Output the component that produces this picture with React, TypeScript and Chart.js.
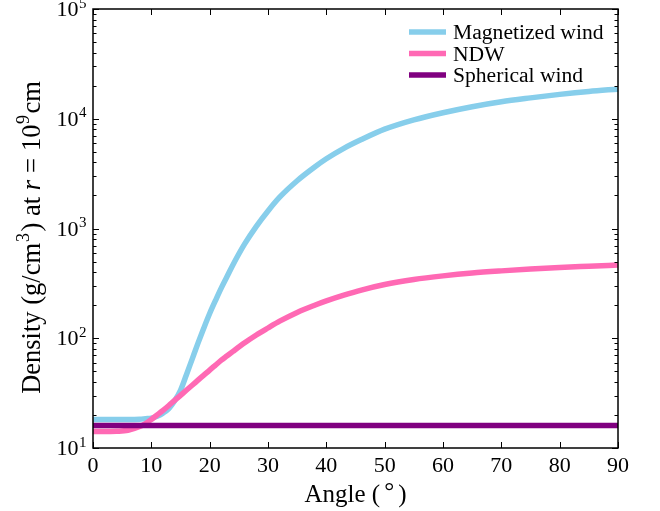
import React, { useEffect, useRef } from "react";
import { Chart, registerables } from "chart.js";

Chart.register(...registerables);

// ---- data ----
const angles = [0, 2, 4, 6, 8, 9, 10, 11, 12, 13, 14, 15, 16, 17, 18, 19, 20, 21, 22, 23, 24, 26, 28, 30, 32, 35, 38, 40, 43, 46, 50, 55, 60, 65, 70, 75, 80, 85, 90];
const magnetizedWind = [18.2, 18.2, 18.2, 18.2, 18.3, 18.5, 18.7, 19.5, 20.8, 22.9, 26.9, 33.5, 46.2, 64.6, 90.2, 124, 168, 221, 288, 367, 468, 724, 1047, 1445, 1928, 2723, 3631, 4315, 5370, 6457, 8035, 9772, 11350, 12880, 14290, 15490, 16670, 17740, 18620];
const ndw = [14.1, 14.1, 14.2, 14.5, 15.7, 16.7, 18.2, 20.0, 22.0, 24.4, 27.2, 30.2, 33.6, 37.3, 41.5, 46.1, 51.3, 56.9, 63.1, 69.2, 75.9, 90.8, 107, 124, 143, 172, 200, 219, 247, 275, 309, 343, 370, 393, 411, 427, 441, 453, 465];
const sphericalAngles = [0, 90];
const sphericalWind = [16, 16];

const xTicks = [0, 10, 20, 30, 40, 50, 60, 70, 80, 90];
const yTickExponents = [1, 2, 3, 4, 5];
const minorMultipliers = [2, 3, 4, 5, 6, 7, 8, 9];

const seriesNames = ["Magnetized wind", "NDW", "Spherical wind"];
const seriesColors = ["#87CEEB", "#FF69B4", "#800080"];

const FONT = "'Liberation Serif', 'DejaVu Serif', serif";

const overlay = {
  id: "overlay",
  afterDraw(chart: any) {
    const { ctx, chartArea: a, scales } = chart;
    const xs = scales.x;
    const ys = scales.y;
    ctx.save();
    ctx.strokeStyle = "#000";
    ctx.fillStyle = "#000";

    const line = (x1: number, y1: number, x2: number, y2: number) => {
      ctx.beginPath();
      ctx.moveTo(x1, y1);
      ctx.lineTo(x2, y2);
      ctx.stroke();
    };

    // ticks
    ctx.lineWidth = 1;
    for (const v of xTicks) {
      const px = Math.round(xs.getPixelForValue(v)) + 0.5;
      line(px, a.bottom, px, a.bottom - 6);
      line(px, a.top, px, a.top + 6);
    }
    for (const e of yTickExponents) {
      const py = Math.round(ys.getPixelForValue(Math.pow(10, e))) + 0.5;
      line(a.left, py, a.left + 6, py);
      line(a.right, py, a.right - 6, py);
      if (e < 5) {
        for (const m of minorMultipliers) {
          const pm = Math.round(ys.getPixelForValue(m * Math.pow(10, e))) + 0.5;
          line(a.left, pm, a.left + 3.5, pm);
          line(a.right, pm, a.right - 3.5, pm);
        }
      }
    }

    // frame
    ctx.lineWidth = 1.5;
    ctx.strokeRect(a.left, a.top, a.right - a.left, a.bottom - a.top);

    // x tick labels
    ctx.font = `22px ${FONT}`;
    ctx.textAlign = "center";
    ctx.textBaseline = "alphabetic";
    for (const v of xTicks) {
      ctx.fillText(String(v), xs.getPixelForValue(v), 472);
    }

    // y tick labels 10^e
    ctx.textAlign = "left";
    for (const e of yTickExponents) {
      const py = ys.getPixelForValue(Math.pow(10, e));
      ctx.font = `15px ${FONT}`;
      const supW = ctx.measureText(String(e)).width;
      ctx.font = `22px ${FONT}`;
      const baseW = ctx.measureText("10").width;
      const right = 86.5;
      const start = right - supW - baseW - 0.5;
      ctx.fillText("10", start, py + 7);
      ctx.font = `15px ${FONT}`;
      ctx.fillText(String(e), start + baseW + 0.5, py - 1.5);
    }

    // x axis title
    ctx.font = `25px ${FONT}`;
    const xt1 = "Angle (";
    const xt2 = "\u00B0";
    const xt3 = ")";
    const w1 = ctx.measureText(xt1).width;
    const w2 = ctx.measureText(xt2).width;
    const w3 = ctx.measureText(xt3).width;
    const gap = 4;
    const total = w1 + gap + w2 + gap + w3;
    let sx = (a.left + a.right) / 2 - total / 2;
    ctx.fillText(xt1, sx, 501.5);
    sx += w1 + gap;
    ctx.fillText(xt2, sx, 499);
    sx += w2 + gap;
    ctx.fillText(xt3, sx, 501.5);

    // y axis title (rotated)
    const big = `26.5px ${FONT}`;
    const sup = `18px ${FONT}`;
    const segs = [
      { t: "Density (g/cm", f: big, dy: 0, gap: 1 },
      { t: "3", f: sup, dy: -10.5, gap: 1.5 },
      { t: ") at ", f: big, dy: 0, gap: 0 },
      { t: "r", f: `italic ${big}`, dy: 0, gap: 7 },
      { t: "=", f: big, dy: 0, gap: 7 },
      { t: "10", f: big, dy: 0, gap: 0.5 },
      { t: "9", f: sup, dy: -10.5, gap: 1.5 },
      { t: "cm", f: big, dy: 0, gap: 0 },
    ];
    let tw = 0;
    const widths: number[] = [];
    for (const s of segs) {
      ctx.font = s.f;
      const w = ctx.measureText(s.t).width;
      widths.push(w);
      tw += w + s.gap;
    }
    ctx.save();
    ctx.translate(39.5, 237.5);
    ctx.rotate(-Math.PI / 2);
    let cx = -tw / 2;
    segs.forEach((s, i) => {
      ctx.font = s.f;
      ctx.fillText(s.t, cx, s.dy);
      cx += widths[i] + s.gap;
    });
    ctx.restore();

    // legend
    const rows = [32, 53.5, 75];
    ctx.font = `21.6px ${FONT}`;
    rows.forEach((ry, i) => {
      ctx.strokeStyle = seriesColors[i];
      ctx.lineWidth = 5.5;
      line(409, ry, 446, ry);
      ctx.fillStyle = "#000";
      ctx.fillText(seriesNames[i], 453, ry + 7);
    });

    ctx.restore();
  },
};

export default function App() {
  const ref = useRef<HTMLCanvasElement | null>(null);

  useEffect(() => {
    if (!ref.current) return;
    const toPts = (xsArr: number[], ysArr: number[]) => xsArr.map((x, i) => ({ x, y: ysArr[i] }));
    const chart = new Chart(ref.current, {
      type: "line",
      data: {
        datasets: [
          {
            label: seriesNames[0],
            data: toPts(angles, magnetizedWind),
            borderColor: seriesColors[0],
            borderWidth: 5.5,
            pointRadius: 0,
            cubicInterpolationMode: "monotone",
            clip: 0,
            order: 3,
          },
          {
            label: seriesNames[1],
            data: toPts(angles, ndw),
            borderColor: seriesColors[1],
            borderWidth: 5.5,
            pointRadius: 0,
            cubicInterpolationMode: "monotone",
            clip: 0,
            order: 2,
          },
          {
            label: seriesNames[2],
            data: toPts(sphericalAngles, sphericalWind),
            borderColor: seriesColors[2],
            borderWidth: 5.5,
            pointRadius: 0,
            clip: 0,
            order: 1,
          },
        ],
      } as any,
      options: {
        responsive: false,
        animation: false,
        events: [],
        layout: { padding: { left: 0, top: 9, right: 42, bottom: 0 } },
        plugins: { legend: { display: false }, tooltip: { enabled: false } },
        scales: {
          x: {
            type: "linear",
            min: 0,
            max: 90,
            ticks: { display: false },
            grid: { display: false },
            border: { display: false },
            afterFit: (s: any) => {
              s.height = 63;
            },
          },
          y: {
            type: "logarithmic",
            min: 10,
            max: 100000,
            ticks: { display: false },
            grid: { display: false },
            border: { display: false },
            afterFit: (s: any) => {
              s.width = 93;
            },
          },
        },
      } as any,
      plugins: [overlay],
    });
    return () => chart.destroy();
  }, []);

  return (
    <div style={{ position: "absolute", left: 0, top: 0, width: 660, height: 511, background: "#fff" }}>
      <canvas ref={ref} width={660} height={511} style={{ display: "block" }} />
    </div>
  );
}
